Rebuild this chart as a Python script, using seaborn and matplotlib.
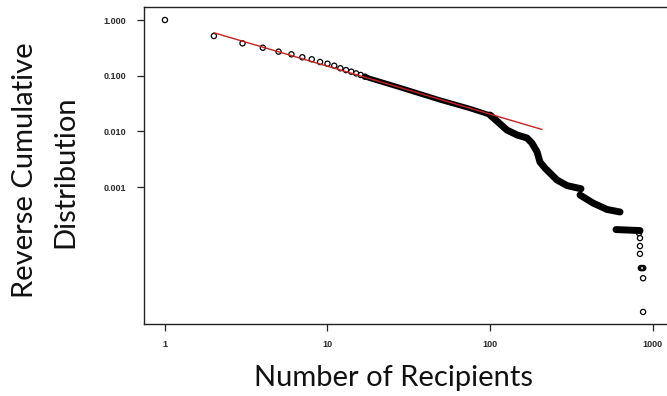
import numpy as np
import pandas as pd
import matplotlib
matplotlib.use("Agg")
import matplotlib.pyplot as plt
import seaborn as sns

# Individually resolved points (number of recipients -> P(X >= x))
head_x = [1, 2, 3, 4, 5, 6, 7, 8, 9, 10, 11, 12, 13, 14, 15, 16, 17]
head_y = [1.000, 0.516, 0.381, 0.318, 0.270, 0.242, 0.214, 0.197, 0.176,
          0.164, 0.151, 0.136, 0.126, 0.118, 0.110, 0.103, 0.096]

# Dense stretch where the markers merge into a band
band_x = [17, 18.3, 27.9, 49.2, 75.3, 100]
band_y = [0.096, 0.0889, 0.0613, 0.0366, 0.0257, 0.01965]

# Heavy tail, in three runs separated by jumps
tail1_x = [100, 112, 127, 147, 169, 181, 195, 203, 218, 258, 298, 363]
tail1_y = [0.01965, 0.01472, 0.01057, 0.00859, 0.00759, 0.00617, 0.00426,
           0.00281, 0.00219, 0.00134, 0.00106, 0.00093]
tail2_x = [358, 430, 525, 631]
tail2_y = [0.000718, 0.000516, 0.000395, 0.000356]
tail3_x = [596, 838]
tail3_y = [0.000172, 0.000165]

# Largest observations
end_x = [826, 837, 837, 837, 848, 862, 877, 875, 875]
end_y = [1.49e-4, 1.21e-4, 8.7e-5, 6.3e-5, 3.5e-5, 3.5e-5, 3.5e-5, 2.3e-5, 5.7e-6]

# Power-law fit segment
fit_x = [2, 209]
fit_y = [0.59, 0.0108]

x_ticks = [1, 10, 100, 1000]
x_tick_labels = ["1", "10", "100", "1000"]
y_ticks = [1.0, 0.1, 0.01, 0.001]
y_tick_labels = ["1.000", "0.100", "0.010", "0.001"]

sns.set_style("ticks")
plt.rcParams["font.family"] = ["Liberation Sans", "DejaVu Sans"]

fig = plt.figure(figsize=(6.67, 3.96), dpi=100)
ax = fig.add_axes([0.2159, 0.1818, 0.7916, 0.8005])
ax.set_xscale("log")
ax.set_yscale("log")

band_df = pd.DataFrame({"x": band_x, "y": band_y, "seg": 0})
tail_df = pd.concat([
    pd.DataFrame({"x": tail1_x, "y": tail1_y, "seg": 1}),
    pd.DataFrame({"x": tail2_x, "y": tail2_y, "seg": 2}),
    pd.DataFrame({"x": tail3_x, "y": tail3_y, "seg": 3}),
], ignore_index=True)

sns.lineplot(data=band_df, x="x", y="y", units="seg", estimator=None, sort=False,
             color="black", lw=3.8, solid_capstyle="round", ax=ax, legend=False)
sns.lineplot(data=tail_df, x="x", y="y", units="seg", estimator=None, sort=False,
             color="black", lw=5.0, solid_capstyle="round", ax=ax, legend=False)

pts = pd.DataFrame({"x": head_x + end_x, "y": head_y + end_y})
sns.scatterplot(data=pts, x="x", y="y", marker="o", s=14, fc="none", ec="black",
                linewidth=0.9, ax=ax, legend=False)

fit_df = pd.DataFrame({"x": fit_x, "y": fit_y})
sns.lineplot(data=fit_df, x="x", y="y", color="#cc2020", lw=1.0, ax=ax,
             legend=False, zorder=5)

ax.set_xlim(0.743, 1318)
ax.set_ylim(3.46e-6, 1.712)
ax.set_xticks(x_ticks)
ax.set_xticklabels(x_tick_labels)
ax.set_yticks(y_ticks)
ax.set_yticklabels(y_tick_labels)
ax.minorticks_off()
ax.tick_params(axis="both", length=5, width=0.9, color="#222222",
               labelsize=6.5, labelcolor="#2a2a2a")
ax.tick_params(axis="x", pad=6.5)
ax.tick_params(axis="y", pad=8)
for lbl in ax.get_xticklabels() + ax.get_yticklabels():
    lbl.set_fontweight("bold")
for side in ["left", "right", "top", "bottom"]:
    ax.spines[side].set_visible(True)
    ax.spines[side].set_color("#222222")
    ax.spines[side].set_linewidth(1.0)
ax.set_xlabel("")
ax.set_ylabel("")

label_font = dict(family=["Lato", "DejaVu Sans"], fontsize=21, color="#111111")
fig.text(393 / 667, 1 - 378 / 396, "Number of Recipients", ha="center", va="center",
         **label_font)
fig.text(25 / 667, 1 - 170 / 396, "Reverse Cumulative", rotation=90,
         ha="center", va="center", **label_font)
fig.text(65 / 667, 1 - 172 / 396, "Distribution", rotation=90,
         ha="center", va="center", **label_font)

fig.savefig("out.png", dpi=100)
